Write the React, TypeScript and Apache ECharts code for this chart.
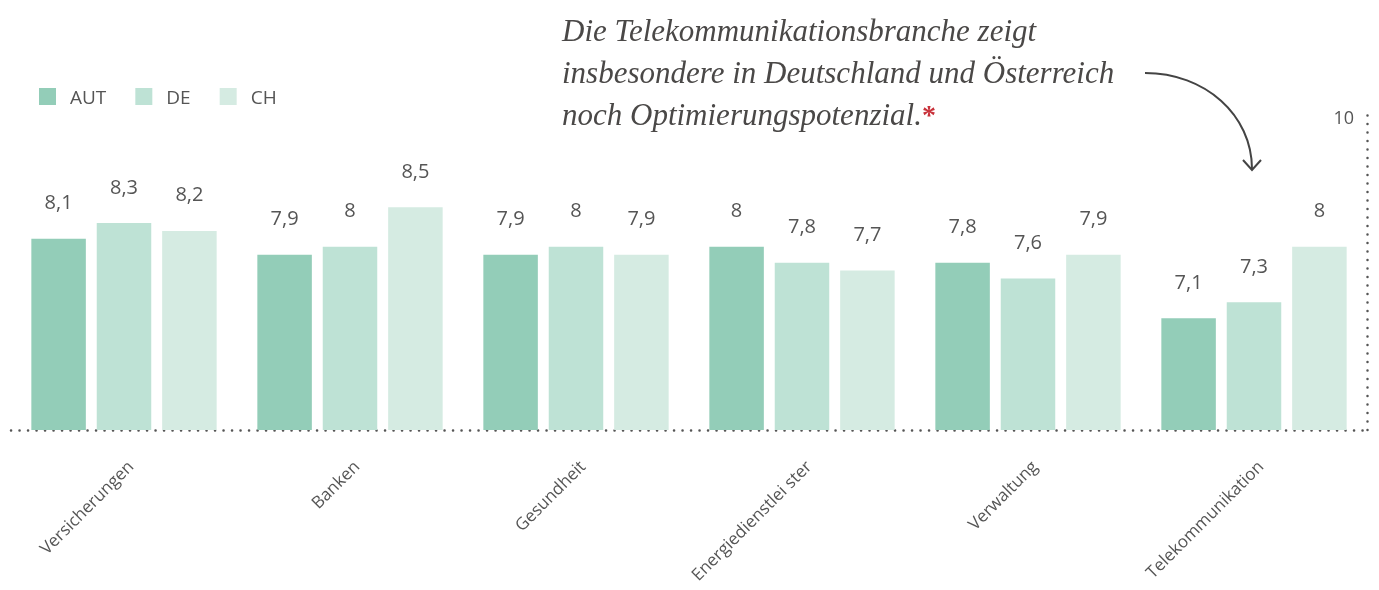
import React, { useEffect, useRef } from "react";
import * as echarts from "echarts";

const categories = ["Versicherungen", "Banken", "Gesundheit", "Energiedienstlei ster", "Verwaltung", "Telekommunikation"];
const seriesNames = ["AUT", "DE", "CH"];
const autValues = [8.1, 7.9, 7.9, 8.0, 7.8, 7.1];
const deValues = [8.3, 8.0, 8.0, 7.8, 7.6, 7.3];
const chValues = [8.2, 8.5, 7.9, 7.7, 7.9, 8.0];
const colors = ["#93cdb8", "#bee2d5", "#d5ebe2"];
const scaleTickMax = 10;
const annotationLines = [
  "Die Telekommunikationsbranche zeigt",
  "insbesondere in Deutschland und Österreich",
  "noch Optimierungspotenzial.",
];

const SANS = "'Open Sans', 'Noto Sans', sans-serif";
const SERIF = "'Liberation Serif', 'DejaVu Serif', serif";
const TEXT = "#555555";

export default function App() {
  const ref = useRef<HTMLDivElement>(null);
  useEffect(() => {
    if (!ref.current) return;
    const chart = echarts.init(ref.current, null, { renderer: "svg" });
    const values = [autValues, deValues, chValues];
    const dotted = { color: "#555", width: 2.5, type: [0.1, 8.4] as any, cap: "round" as any };
    chart.setOption({
      animation: false,
      legend: {
        left: 39,
        top: 87,
        padding: 0,
        icon: "rect",
        itemWidth: 17,
        itemHeight: 17,
        itemGap: 29,
        textStyle: { fontFamily: SANS, fontSize: 19, color: TEXT, padding: [0, 0, 0, 9] },
        data: seriesNames,
      },
      grid: { left: 11, right: 12, top: 108, bottom: 160 },
      xAxis: {
        type: "category",
        data: categories,
        axisLine: { show: true, lineStyle: dotted },
        axisTick: { show: false },
        axisLabel: {
          rotate: 45,
          margin: 27,
          verticalAlign: "top",
          fontFamily: SANS,
          fontSize: 17,
          color: TEXT,
        },
      },
      yAxis: [
        { type: "value", min: 5.69, max: 9.75, show: false },
        {
          type: "value",
          position: "right",
          min: 0,
          max: scaleTickMax,
          interval: scaleTickMax,
          axisLine: { show: true, lineStyle: dotted },
          axisTick: { show: false },
          splitLine: { show: false },
          axisLabel: {
            inside: true,
            margin: 13,
            verticalAlign: "top",
            fontFamily: SANS,
            fontSize: 18,
            color: TEXT,
            formatter: (v: number) => (v === scaleTickMax ? String(v) : ""),
          },
        },
      ],
      series: seriesNames.map((name, i) => ({
        name,
        type: "bar",
        yAxisIndex: 0,
        data: values[i],
        barGap: "20%",
        barCategoryGap: "18%",
        itemStyle: { color: colors[i] },
        label: {
          show: true,
          position: "top",
          distance: 27,
          fontFamily: SANS,
          fontSize: 20,
          color: TEXT,
          formatter: (p: any) => String(p.value).replace(".", ","),
        },
      })),
      color: colors,
      graphic: [
        {
          type: "text",
          left: 562,
          top: 15,
          style: {
            text:
              "{a|" + annotationLines[0] + "}\n{a|" + annotationLines[1] + "}\n{a|" + annotationLines[2] + "}{r|*}",
            rich: {
              a: { fontFamily: SERIF, fontStyle: "italic", fontSize: 31, lineHeight: 42, fill: "#4a4847" },
              r: { fontFamily: SERIF, fontStyle: "normal", fontWeight: "bold", fontSize: 28, lineHeight: 42, fill: "#c8313a" },
            },
          },
        },
        {
          type: "bezierCurve",
          shape: { x1: 1145, y1: 73, cpx1: 1205, cpy1: 73, cpx2: 1252, cpy2: 115, x2: 1252, y2: 169 },
          style: { stroke: "#444", lineWidth: 2, fill: null },
        },
        {
          type: "polyline",
          shape: { points: [[1243, 160], [1252, 170], [1261, 160]] },
          style: { stroke: "#444", lineWidth: 2, fill: null },
        },
      ],
    });
    return () => chart.dispose();
  }, []);
  return <div ref={ref} style={{ position: "fixed", left: 0, top: 0, width: 1379, height: 590 }} />;
}
